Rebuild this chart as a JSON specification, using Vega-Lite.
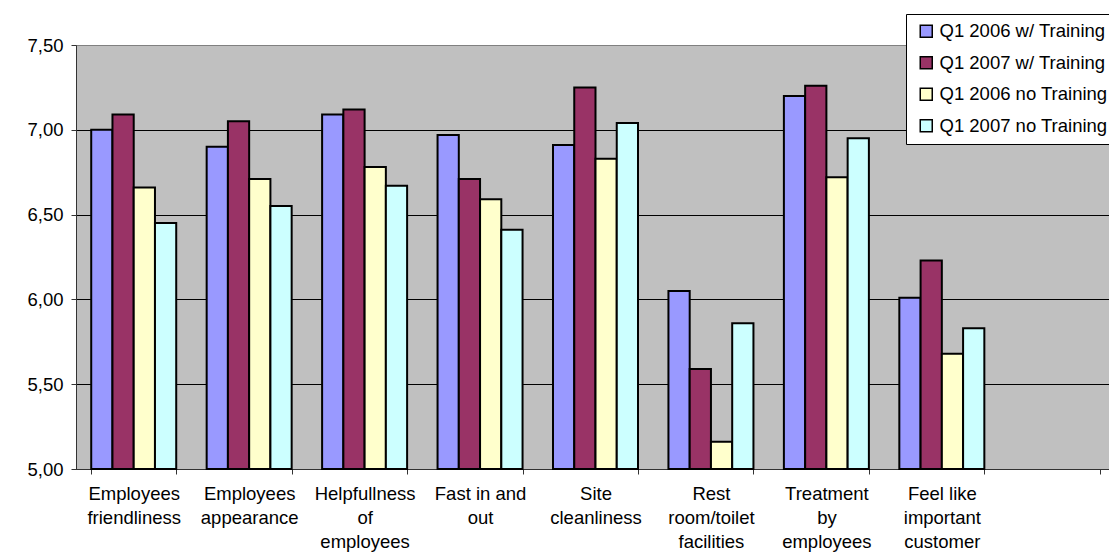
{
  "$schema": "https://vega.github.io/schema/vega-lite/v6.json",
  "width": 1033,
  "height": 424,
  "autosize": {"type": "none"},
  "padding": {"left": 76, "top": 45, "right": 0, "bottom": 85},
  "background": "white",
  "config": {
    "font": "Liberation Sans",
    "view": {"fill": "#C0C0C0", "stroke": "#808080", "strokeWidth": 1}
  },
  "data": {
    "values": [
      {"category": "Employees friendliness", "series": "Q1 2006 w/ Training", "score": 7.00},
      {"category": "Employees friendliness", "series": "Q1 2007 w/ Training", "score": 7.09},
      {"category": "Employees friendliness", "series": "Q1 2006 no Training", "score": 6.66},
      {"category": "Employees friendliness", "series": "Q1 2007 no Training", "score": 6.45},
      {"category": "Employees appearance", "series": "Q1 2006 w/ Training", "score": 6.90},
      {"category": "Employees appearance", "series": "Q1 2007 w/ Training", "score": 7.05},
      {"category": "Employees appearance", "series": "Q1 2006 no Training", "score": 6.71},
      {"category": "Employees appearance", "series": "Q1 2007 no Training", "score": 6.55},
      {"category": "Helpfullness of employees", "series": "Q1 2006 w/ Training", "score": 7.09},
      {"category": "Helpfullness of employees", "series": "Q1 2007 w/ Training", "score": 7.12},
      {"category": "Helpfullness of employees", "series": "Q1 2006 no Training", "score": 6.78},
      {"category": "Helpfullness of employees", "series": "Q1 2007 no Training", "score": 6.67},
      {"category": "Fast in and out", "series": "Q1 2006 w/ Training", "score": 6.97},
      {"category": "Fast in and out", "series": "Q1 2007 w/ Training", "score": 6.71},
      {"category": "Fast in and out", "series": "Q1 2006 no Training", "score": 6.59},
      {"category": "Fast in and out", "series": "Q1 2007 no Training", "score": 6.41},
      {"category": "Site cleanliness", "series": "Q1 2006 w/ Training", "score": 6.91},
      {"category": "Site cleanliness", "series": "Q1 2007 w/ Training", "score": 7.25},
      {"category": "Site cleanliness", "series": "Q1 2006 no Training", "score": 6.83},
      {"category": "Site cleanliness", "series": "Q1 2007 no Training", "score": 7.04},
      {"category": "Rest room/toilet facilities", "series": "Q1 2006 w/ Training", "score": 6.05},
      {"category": "Rest room/toilet facilities", "series": "Q1 2007 w/ Training", "score": 5.59},
      {"category": "Rest room/toilet facilities", "series": "Q1 2006 no Training", "score": 5.16},
      {"category": "Rest room/toilet facilities", "series": "Q1 2007 no Training", "score": 5.86},
      {"category": "Treatment by employees", "series": "Q1 2006 w/ Training", "score": 7.20},
      {"category": "Treatment by employees", "series": "Q1 2007 w/ Training", "score": 7.26},
      {"category": "Treatment by employees", "series": "Q1 2006 no Training", "score": 6.72},
      {"category": "Treatment by employees", "series": "Q1 2007 no Training", "score": 6.95},
      {"category": "Feel like important customer", "series": "Q1 2006 w/ Training", "score": 6.01},
      {"category": "Feel like important customer", "series": "Q1 2007 w/ Training", "score": 6.23},
      {"category": "Feel like important customer", "series": "Q1 2006 no Training", "score": 5.68},
      {"category": "Feel like important customer", "series": "Q1 2007 no Training", "score": 5.83}
    ]
  },
  "mark": {"type": "bar", "stroke": "black", "strokeWidth": 2},
  "encoding": {
    "x": {
      "field": "category",
      "type": "nominal",
      "sort": null,
      "scale": {
        "domain": [
          "Employees friendliness", "Employees appearance", "Helpfullness of employees",
          "Fast in and out", "Site cleanliness", "Rest room/toilet facilities",
          "Treatment by employees", "Feel like important customer", " "
        ],
        "range": [0, 1039],
        "paddingInner": 0.2637,
        "paddingOuter": 0.1318
      },
      "axis": {
        "title": null,
        "labelAngle": 0,
        "labelFontSize": 18.5,
        "labelColor": "black",
        "labelBaseline": "top",
        "labelPadding": 10,
        "labelLineHeight": 24,
        "labelLimit": 0,
        "tickBand": "extent",
        "tickSize": 5,
        "tickColor": "#333333",
        "domainColor": "#333333",
        "labelExpr": "datum.value == 'Employees friendliness' ? ['Employees', 'friendliness'] : datum.value == 'Employees appearance' ? ['Employees', 'appearance'] : datum.value == 'Helpfullness of employees' ? ['Helpfullness', 'of', 'employees'] : datum.value == 'Fast in and out' ? ['Fast in and', 'out'] : datum.value == 'Site cleanliness' ? ['Site', 'cleanliness'] : datum.value == 'Rest room/toilet facilities' ? ['Rest', 'room/toilet', 'facilities'] : datum.value == 'Treatment by employees' ? ['Treatment', 'by', 'employees'] : datum.value == 'Feel like important customer' ? ['Feel like', 'important', 'customer'] : ''"
      }
    },
    "xOffset": {
      "field": "series",
      "type": "nominal",
      "sort": null,
      "scale": {
        "domain": ["Q1 2006 w/ Training", "Q1 2007 w/ Training", "Q1 2006 no Training", "Q1 2007 no Training"],
        "paddingInner": 0,
        "paddingOuter": 0
      }
    },
    "y": {
      "field": "score",
      "type": "quantitative",
      "scale": {"domain": [5, 7.5], "nice": false, "zero": false},
      "axis": {
        "title": null,
        "values": [5, 5.5, 6, 6.5, 7, 7.5],
        "labelFontSize": 18.5,
        "labelColor": "black",
        "labelPadding": 8,
        "tickSize": 5,
        "tickColor": "#333333",
        "domainColor": "#333333",
        "grid": true,
        "gridColor": {"condition": {"test": "datum.value == 7.5", "value": "#808080"}, "value": "black"},
        "gridWidth": 1,
        "labelExpr": "replace(format(datum.value, '.2f'), '.', ',')"
      }
    },
    "y2": {"datum": 5},
    "color": {
      "field": "series",
      "type": "nominal",
      "sort": null,
      "scale": {
        "domain": ["Q1 2006 w/ Training", "Q1 2007 w/ Training", "Q1 2006 no Training", "Q1 2007 no Training"],
        "range": ["#9999FF", "#993366", "#FFFFCC", "#CCFFFF"]
      },
      "legend": {
        "title": null,
        "orient": "none",
        "legendX": 830,
        "legendY": -31,
        "padding": 8,
        "fillColor": "white",
        "strokeColor": "black",
        "symbolType": "square",
        "symbolSize": 144,
        "symbolStrokeColor": "black",
        "symbolStrokeWidth": 1.5,
        "symbolOpacity": 1,
        "symbolOffset": 3,
        "labelFontSize": 18.5,
        "labelColor": "black",
        "labelOffset": 4,
        "labelLimit": 0,
        "rowPadding": 12.5
      }
    }
  }
}
